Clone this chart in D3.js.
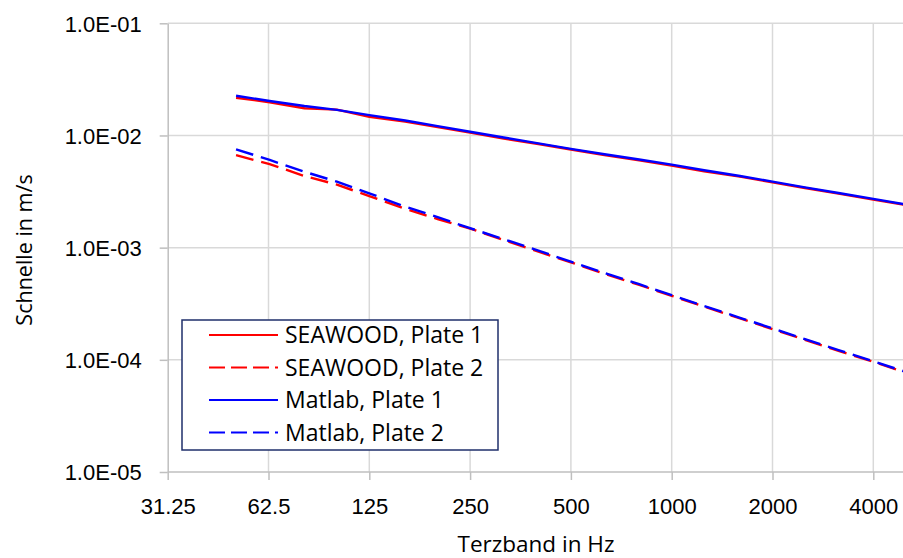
<!DOCTYPE html>
<html>
<head>
<meta charset="utf-8">
<script src="https://cdn.jsdelivr.net/npm/d3@7"></script>
<style>
  body { margin: 0; background: #fff; }
  svg { display: block; font-family: "Open Sans", sans-serif; }
</style>
</head>
<body>
<svg id="chart" width="903" height="558"></svg>
<script>
// third-octave bands (Hz)
var bands = [50, 63, 80, 100, 125, 160, 200, 250, 315, 400, 500, 630, 800, 1000, 1250, 1600, 2000, 2500, 3150, 4000, 5000];

// velocity in m/s
var seawoodPlate1 = [2.17e-2, 1.98e-2, 1.75e-2, 1.70e-2, 1.47e-2, 1.33e-2, 1.19e-2, 1.06e-2, 9.4e-3, 8.4e-3, 7.5e-3, 6.7e-3, 6.0e-3, 5.4e-3, 4.8e-3, 4.3e-3, 3.82e-3, 3.4e-3, 3.03e-3, 2.68e-3, 2.4e-3];
var seawoodPlate2 = [6.67e-3, 5.55e-3, 4.35e-3, 3.65e-3, 2.88e-3, 2.22e-3, 1.80e-3, 1.48e-3, 1.17e-3, 9.2e-4, 7.4e-4, 5.85e-4, 4.65e-4, 3.72e-4, 2.98e-4, 2.34e-4, 1.88e-4, 1.51e-4, 1.2e-4, 9.6e-5, 7.7e-5];
var matlabPlate1 = [2.26e-2, 2.03e-2, 1.83e-2, 1.69e-2, 1.52e-2, 1.36e-2, 1.21e-2, 1.08e-2, 9.6e-3, 8.5e-3, 7.6e-3, 6.8e-3, 6.1e-3, 5.5e-3, 4.9e-3, 4.35e-3, 3.88e-3, 3.45e-3, 3.07e-3, 2.72e-3, 2.43e-3];
var matlabPlate2 = [7.53e-3, 6.05e-3, 4.75e-3, 3.88e-3, 3.05e-3, 2.32e-3, 1.87e-3, 1.49e-3, 1.19e-3, 9.4e-4, 7.5e-4, 5.95e-4, 4.72e-4, 3.77e-4, 3.02e-4, 2.37e-4, 1.91e-4, 1.53e-4, 1.22e-4, 9.7e-5, 7.8e-5];

var xTicks = [31.25, 62.5, 125, 250, 500, 1000, 2000, 4000];
var xTickLabels = ['31.25', '62.5', '125', '250', '500', '1000', '2000', '4000'];
var yTicks = [1e-5, 1e-4, 1e-3, 1e-2, 1e-1];

var seriesNames = ['SEAWOOD, Plate 1', 'SEAWOOD, Plate 2', 'Matlab, Plate 1', 'Matlab, Plate 2'];
var seriesColors = ['#ff0000', '#ff0000', '#0000ff', '#0000ff'];
var seriesDashed = [false, true, false, true];

var svg = d3.select('#chart');
var W = 903, H = 558;
var plotLeft = 167.7, plotTop = 23.3, plotBottom = 472;

var x = d3.scaleLog().base(2).domain([31.25, 4000]).range([plotLeft, 873.3]);
var y = d3.scaleLog().domain([1e-5, 1e-1]).range([plotBottom, plotTop]);

function fmtExp(d)
{
	var e = Math.round(Math.log10(d));
	var s = Math.abs(e) < 10 ? '0' + Math.abs(e) : '' + Math.abs(e);
	return '1.0E' + (e < 0 ? '-' : '+') + s;
}

// gridlines
var grid = svg.append('g').attr('class', 'grid');
grid.selectAll('line.h').data(yTicks.slice(1)).enter().append('line')
	.attr('x1', plotLeft).attr('x2', W)
	.attr('y1', function (d) { return y(d); }).attr('y2', function (d) { return y(d); })
	.attr('stroke', '#d9d9d9').attr('stroke-width', 1.5);
grid.selectAll('line.v').data(xTicks.slice(1)).enter().append('line')
	.attr('x1', function (d) { return x(d); }).attr('x2', function (d) { return x(d); })
	.attr('y1', plotTop).attr('y2', plotBottom)
	.attr('stroke', '#d9d9d9').attr('stroke-width', 1.5);

// axes
var xAxis = d3.axisBottom(x).tickValues(xTicks)
	.tickFormat(function (d, i) { return xTickLabels[i]; })
	.tickSize(8).tickSizeOuter(0).tickPadding(18);
var gx = svg.append('g').attr('transform', 'translate(0,' + plotBottom + ')').call(xAxis);
gx.select('.domain').attr('d', 'M' + plotLeft + ',0H' + W);

var yAxis = d3.axisLeft(y).tickValues(yTicks).tickFormat(fmtExp)
	.tickSize(8).tickSizeOuter(0).tickPadding(18);
var gy = svg.append('g').attr('transform', 'translate(' + plotLeft + ',0)').call(yAxis);

[gx, gy].forEach(function (g)
{
	g.selectAll('.domain, .tick line').attr('stroke', '#bfbfbf').attr('stroke-width', 1.5);
	g.selectAll('.tick text').attr('fill', '#000').style('font-size', '22px');
});
gy.selectAll('.tick text').attr('dy', '0.35em');

// axis titles
svg.append('text').attr('x', 536).attr('y', 552)
	.attr('text-anchor', 'middle').style('font-size', '22.5px').text('Terzband in Hz');
svg.append('text').attr('transform', 'translate(32,250) rotate(-90)')
	.attr('text-anchor', 'middle').style('font-size', '21.5px').text('Schnelle in m/s');

// series
var allSeries = [seawoodPlate1, seawoodPlate2, matlabPlate1, matlabPlate2];
var line = d3.line()
	.x(function (d, i) { return x(bands[i]); })
	.y(function (d) { return y(d); });

svg.append('clipPath').attr('id', 'plot-clip').append('rect')
	.attr('x', plotLeft).attr('y', 0).attr('width', W - plotLeft).attr('height', plotBottom);

var lines = svg.append('g').attr('clip-path', 'url(#plot-clip)');
allSeries.forEach(function (vals, k)
{
	lines.append('path').datum(vals)
		.attr('d', line)
		.attr('fill', 'none')
		.attr('stroke', seriesColors[k])
		.attr('stroke-width', 2.4)
		.attr('stroke-dasharray', seriesDashed[k] ? '18,8' : null);
});

// legend
var legend = svg.append('g').attr('transform', 'translate(182,320)');
legend.append('rect').attr('width', 316).attr('height', 130)
	.attr('fill', '#fff').attr('stroke', '#1f2f6b').attr('stroke-width', 1.5);
seriesNames.forEach(function (name, k)
{
	var ly = 15 + k * 32.5;
	legend.append('line').attr('x1', 27).attr('x2', 96).attr('y1', ly).attr('y2', ly)
		.attr('stroke', seriesColors[k]).attr('stroke-width', 2)
		.attr('stroke-dasharray', seriesDashed[k] ? '16,6' : null);
	legend.append('text').attr('x', 103).attr('y', ly).attr('dy', '0.35em')
		.style('font-size', '23px').text(name);
});
</script>
</body>
</html>
